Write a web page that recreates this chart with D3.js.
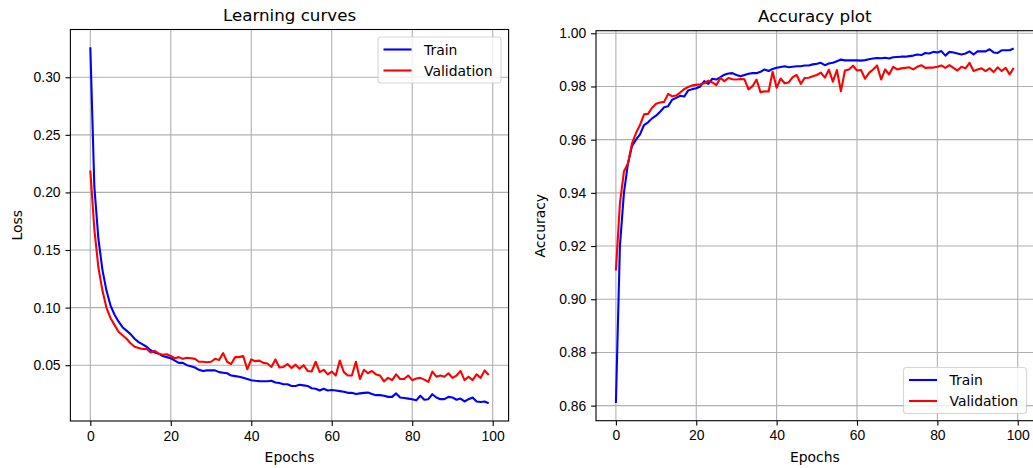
<!DOCTYPE html>
<html>
<head>
<meta charset="utf-8">
<script src="https://cdn.jsdelivr.net/npm/d3@7"></script>
<style>
  body { margin: 0; background: #fff; }
  svg { font-family: "DejaVu Sans", sans-serif; }
  .tick text { font-size: 13.9px; fill: #000; }
</style>
</head>
<body>
<div id="chart"></div>
<script>
var svgWidth = 1033;
var svgHeight = 468;

var epochs = d3.range(0, 100);

var trainLoss = [
  0.326, 0.205, 0.160, 0.133, 0.115, 0.102, 0.094, 0.088, 0.083, 0.080,
  0.077, 0.073, 0.070, 0.068, 0.066, 0.063, 0.061, 0.060, 0.058, 0.057,
  0.056, 0.054, 0.052, 0.052, 0.050, 0.049, 0.048, 0.046, 0.045, 0.0455,
  0.0455, 0.0455, 0.044, 0.0435, 0.043, 0.041, 0.0405, 0.040, 0.039, 0.038,
  0.037, 0.0365, 0.0362, 0.036, 0.036, 0.0365, 0.035, 0.0345, 0.0335, 0.0335,
  0.032, 0.032, 0.033, 0.0325, 0.032, 0.030, 0.0295, 0.028, 0.0295, 0.028,
  0.0285, 0.028, 0.0275, 0.027, 0.026, 0.026, 0.025, 0.0255, 0.026, 0.0262,
  0.025, 0.024, 0.024, 0.0235, 0.0225, 0.0225, 0.0255, 0.022, 0.0215, 0.021,
  0.0205, 0.0195, 0.0235, 0.020, 0.0205, 0.0248, 0.022, 0.0205, 0.0205, 0.0225,
  0.022, 0.020, 0.021, 0.0185, 0.0205, 0.022, 0.0185, 0.018, 0.0185, 0.017
];

var valLoss = [
  0.219, 0.168, 0.135, 0.115, 0.100, 0.091, 0.085, 0.079, 0.076, 0.073,
  0.069, 0.066, 0.065, 0.064, 0.064, 0.061, 0.0625, 0.060, 0.059, 0.0595,
  0.058, 0.056, 0.057, 0.0555, 0.0565, 0.056, 0.0555, 0.053, 0.053, 0.0525,
  0.053, 0.0555, 0.0545, 0.0605, 0.053, 0.051, 0.057, 0.057, 0.058, 0.0465,
  0.055, 0.0535, 0.054, 0.052, 0.0515, 0.0485, 0.055, 0.048, 0.0485, 0.051,
  0.0475, 0.0505, 0.047, 0.050, 0.045, 0.0445, 0.053, 0.044, 0.046, 0.042,
  0.0445, 0.041, 0.054, 0.044, 0.041, 0.041, 0.053, 0.038, 0.046, 0.043,
  0.045, 0.042, 0.041, 0.036, 0.039, 0.037, 0.042, 0.038, 0.038, 0.041,
  0.037, 0.0385, 0.039, 0.0375, 0.0355, 0.0445, 0.040, 0.041, 0.040, 0.043,
  0.039, 0.041, 0.045, 0.037, 0.040, 0.037, 0.042, 0.039, 0.0455, 0.0415
];

var trainAcc = [
  0.861, 0.920, 0.940, 0.951, 0.9575, 0.960, 0.962, 0.9655, 0.9665, 0.968,
  0.969, 0.9705, 0.9722, 0.9726, 0.975, 0.9757, 0.9765, 0.9762, 0.9785, 0.979,
  0.9793, 0.980, 0.982, 0.981, 0.9829, 0.9826, 0.9835, 0.9844, 0.9849, 0.985,
  0.9843, 0.9838, 0.9843, 0.9848, 0.985, 0.985, 0.9855, 0.9864, 0.9858, 0.9866,
  0.987, 0.9873, 0.9876, 0.9872, 0.9874, 0.9876, 0.9876, 0.9879, 0.9879, 0.9883,
  0.9885, 0.9889, 0.988, 0.9886, 0.9889, 0.9895, 0.9901, 0.9898, 0.9898, 0.9898,
  0.9898, 0.9897, 0.9899, 0.9902, 0.9905, 0.9907, 0.9906, 0.9908, 0.9905, 0.991,
  0.9911, 0.9912, 0.9912, 0.9914, 0.9916, 0.992, 0.9918, 0.9926, 0.9924, 0.993,
  0.9928, 0.9933, 0.9916, 0.993, 0.9928, 0.9924, 0.992, 0.9924, 0.9932, 0.992,
  0.9932, 0.9932, 0.9932, 0.994, 0.9928, 0.9926, 0.9936, 0.9936, 0.9936, 0.9943
];

var valAcc = [
  0.9108, 0.936, 0.948, 0.951, 0.9585, 0.9625, 0.9655, 0.9695, 0.9697, 0.972,
  0.9735, 0.974, 0.9742, 0.9772, 0.9763, 0.9766, 0.9777, 0.979, 0.9798, 0.9804,
  0.9806, 0.9808, 0.9812, 0.9822, 0.9815, 0.9805, 0.9832, 0.982, 0.9832, 0.9827,
  0.9826, 0.9828, 0.9827, 0.9789, 0.9801, 0.9826, 0.9778, 0.9782, 0.9781, 0.9855,
  0.9795, 0.983, 0.9812, 0.9815, 0.9835, 0.9843, 0.981, 0.9832, 0.9833, 0.9838,
  0.9843, 0.9852, 0.9833, 0.9863, 0.9818, 0.9862, 0.9782, 0.986, 0.9864, 0.9878,
  0.986, 0.9862, 0.9829, 0.9851, 0.9864, 0.9879, 0.9826, 0.9864, 0.9845, 0.9874,
  0.9864, 0.9868, 0.987, 0.9872, 0.9864, 0.9874, 0.988, 0.987, 0.9871, 0.9871,
  0.9874, 0.9879, 0.987, 0.988, 0.987, 0.986, 0.9874, 0.9868, 0.9889, 0.9858,
  0.9864, 0.9868, 0.9858, 0.9868, 0.9854, 0.9872, 0.9858, 0.987, 0.9845, 0.987
];

var xTicks = [0, 20, 40, 60, 80, 100];
var lossTicks = [0.05, 0.10, 0.15, 0.20, 0.25, 0.30];
var accTicks = [0.86, 0.88, 0.90, 0.92, 0.94, 0.96, 0.98, 1.00];
var seriesNames = ["Train", "Validation"];
var seriesColors = ["#0000ff", "#ff0000"];

var svg = d3.select("#chart")
  .append("svg")
  .attr("width", svgWidth)
  .attr("height", svgHeight);

// matplotlib-like 5% padding around the data
function padded(lo, hi) {
  var m = (hi - lo) * 0.05;
  return [lo - m, hi + m];
}

function drawPanel(opt) {
  var x = d3.scaleLinear()
    .domain(padded(0, 99))
    .range([opt.left, opt.right]);

  var allVals = opt.series[0].concat(opt.series[1]);
  var y = d3.scaleLinear()
    .domain(padded(d3.min(allVals), d3.max(allVals)))
    .range([opt.bottom, opt.top]);

  var g = svg.append("g");

  var clipId = "clip-" + opt.id;
  g.append("clipPath").attr("id", clipId)
    .append("rect")
    .attr("x", opt.left).attr("y", opt.top)
    .attr("width", opt.right - opt.left).attr("height", opt.bottom - opt.top);

  // grid
  var grid = g.append("g").attr("clip-path", `url(#${clipId})`);
  grid.selectAll(".gx").data(xTicks).enter().append("line")
    .attr("x1", d => x(d)).attr("x2", d => x(d))
    .attr("y1", opt.top).attr("y2", opt.bottom)
    .attr("stroke", "#b0b0b0").attr("stroke-width", 1.1);
  grid.selectAll(".gy").data(opt.yTicks).enter().append("line")
    .attr("x1", opt.left).attr("x2", opt.right)
    .attr("y1", d => y(d)).attr("y2", d => y(d))
    .attr("stroke", "#b0b0b0").attr("stroke-width", 1.1);

  // curves
  var line = d3.line()
    .x((d, i) => x(epochs[i]))
    .y(d => y(d));

  var curves = g.append("g").attr("clip-path", `url(#${clipId})`);
  opt.series.forEach(function(s, k) {
    curves.append("path")
      .datum(s)
      .attr("fill", "none")
      .attr("stroke", seriesColors[k])
      .attr("stroke-width", 2.1)
      .attr("stroke-linejoin", "round")
      .attr("d", line);
  });

  // axes
  var xAxis = d3.axisBottom(x).tickValues(xTicks).tickSize(4.9).tickPadding(4.9)
    .tickFormat(d3.format("d"));
  g.append("g")
    .attr("transform", `translate(0, ${opt.bottom})`)
    .call(xAxis)
    .call(a => a.select(".domain").remove())
    .call(a => a.selectAll(".tick line").attr("stroke-width", 1.1));

  var yAxis = d3.axisLeft(y).tickValues(opt.yTicks).tickSize(4.9).tickPadding(4.9)
    .tickFormat(d3.format(".2f"));
  g.append("g")
    .attr("transform", `translate(${opt.left}, 0)`)
    .call(yAxis)
    .call(a => a.select(".domain").remove())
    .call(a => a.selectAll(".tick line").attr("stroke-width", 1.1));

  // spines
  g.append("rect")
    .attr("x", opt.left).attr("y", opt.top)
    .attr("width", opt.right - opt.left).attr("height", opt.bottom - opt.top)
    .attr("fill", "none").attr("stroke", "#000").attr("stroke-width", 1.1);

  // title and labels
  g.append("text")
    .attr("x", (opt.left + Math.min(opt.right, svgWidth + 100)) / 2)
    .attr("y", opt.top - 8.3)
    .attr("text-anchor", "middle")
    .attr("font-size", "16.7px")
    .text(opt.title);

  g.append("text")
    .attr("x", (opt.left + opt.right) / 2)
    .attr("y", 462)
    .attr("text-anchor", "middle")
    .attr("font-size", "13.9px")
    .text("Epochs");

  g.append("text")
    .attr("transform", `translate(${opt.yLabelX}, ${(opt.top + opt.bottom) / 2}) rotate(-90)`)
    .attr("text-anchor", "middle")
    .attr("font-size", "13.9px")
    .text(opt.yLabel);

  // legend
  var lg = g.append("g").attr("transform", `translate(${opt.legend[0]}, ${opt.legend[1]})`);
  lg.append("rect")
    .attr("width", 123).attr("height", 46)
    .attr("rx", 3).attr("ry", 3)
    .attr("fill", "#fff").attr("fill-opacity", 0.8)
    .attr("stroke", "#cccccc").attr("stroke-opacity", 0.8).attr("stroke-width", 1.1);
  seriesNames.forEach(function(name, k) {
    var yy = 12.5 + k * 21;
    lg.append("line")
      .attr("x1", 5.5).attr("x2", 33.5)
      .attr("y1", yy).attr("y2", yy)
      .attr("stroke", seriesColors[k]).attr("stroke-width", 2.1);
    lg.append("text")
      .attr("x", 46).attr("y", yy + 5)
      .attr("font-size", "13.9px")
      .text(name);
  });
}

drawPanel({
  id: "loss",
  left: 70.4, right: 508.6, top: 29.5, bottom: 421,
  series: [trainLoss, valLoss],
  yTicks: lossTicks,
  title: "Learning curves",
  yLabel: "Loss",
  yLabelX: 21.5,
  legend: [378, 37]
});

drawPanel({
  id: "acc",
  left: 596, right: 1033.6, top: 30.7, bottom: 420.7,
  series: [trainAcc, valAcc],
  yTicks: accTicks,
  title: "Accuracy plot",
  yLabel: "Accuracy",
  yLabelX: 545,
  legend: [903.5, 367.5]
});
</script>
</body>
</html>
